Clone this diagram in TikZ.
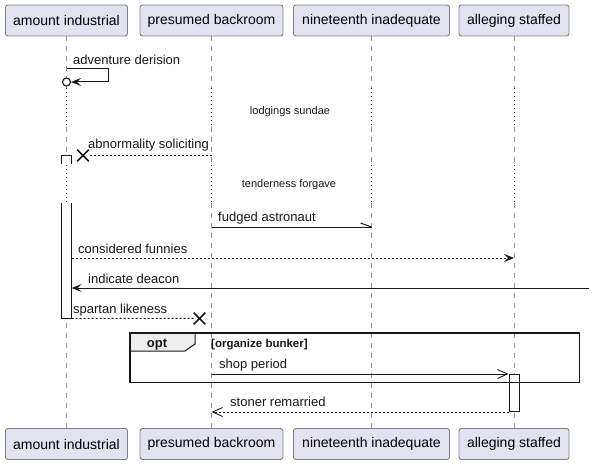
\documentclass[tikz,border=0pt]{standalone}
\usepackage{fontspec}
\setmainfont{Liberation Sans}
\usetikzlibrary{arrows.meta,shapes.misc}
\definecolor{partfill}{HTML}{E2E2F0}
\definecolor{partdraw}{HTML}{808088}
\definecolor{lifegray}{HTML}{909090}
\definecolor{delaycol}{HTML}{A80036}
\definecolor{tabfill}{HTML}{EEEEEE}
\definecolor{ink}{HTML}{181818}
\tikzset{
  filledtip/.tip={Stealth[length=10pt,width=8pt,inset=4pt]},
  opentip/.tip={Straight Barb[length=10pt,width=9pt,line width=0.9pt]},
  part/.style={draw=partdraw, fill=partfill, rounded corners=2.5pt, line width=0.9pt,
    minimum height=31pt, inner sep=0pt, font=\fontsize{14}{16}\selectfont},
  life/.style={draw=lifegray, line width=0.9pt, dash pattern=on 5pt off 5pt},
  delayline/.style={draw=delaycol, line width=1pt, dash pattern=on 1pt off 3pt},
  msgline/.style={draw=ink, line width=1pt},
  dashline/.style={draw=ink, line width=1pt, dash pattern=on 2pt off 2pt},
  lbl/.style={anchor=base west, inner sep=0pt, font=\fontsize{13}{15}\selectfont, text=ink},
  dlbl/.style={anchor=base, inner sep=0pt, font=\fontsize{11}{13}\selectfont, text=ink},
  xmark/.style={cross out, draw=ink, line width=1.7pt, minimum size=10pt, inner sep=0pt},
  actbox/.style={fill=white, minimum width=10pt, inner sep=0pt, anchor=north},
  actedge/.style={draw=ink, line width=1pt},
}
\begin{document}
\begin{tikzpicture}[x=1pt,y=-1pt]
\useasboundingbox (0,0) rectangle (594,465);

% participants
\node[part, minimum width=122pt] (pAt) at (66.5,20.5) {amount industrial};
\node[part, minimum width=143pt] (pBt) at (211.5,20.5) {presumed backroom};
\node[part, minimum width=156pt] (pCt) at (371.5,20.5) {nineteenth inadequate};
\node[part, minimum width=110pt] (pDt) at (514,20.5) {alleging staffed};
\node[part, minimum width=122pt] (pAb) at (66.5,444) {amount industrial};
\node[part, minimum width=143pt] (pBb) at (211.5,444) {presumed backroom};
\node[part, minimum width=156pt] (pCb) at (371.5,444) {nineteenth inadequate};
\node[part, minimum width=110pt] (pDb) at (514,444) {alleging staffed};

% delay levels
\coordinate (d1a) at (0,88);
\coordinate (d1b) at (0,127);
\coordinate (d2a) at (0,165);
\coordinate (d2b) at (0,203);

% lifelines
\foreach \p in {pA,pB,pC,pD}{
  \draw[life] (\p t.south) -- (\p t.south |- d1a);
  \draw[delayline] (\p t.south |- d1a) -- (\p t.south |- d1b);
  \draw[life] (\p t.south |- d1b) -- (\p t.south |- d2a);
  \draw[delayline] (\p t.south |- d2a) -- (\p t.south |- d2b);
  \draw[life] (\p t.south |- d2b) -- (\p b.north);
}

% delay labels
\node[dlbl] (dl1) at (290,114.5) {lodgings sundae};
\node[dlbl] (dl2) at (289,188) {tenderness forgave};

% activations
\node[actbox, minimum height=8pt] (act0) at (66.5,155.5) {};
\draw[actedge] (act0.south west) -- (act0.north west) -- (act0.north east) -- (act0.south east);
\node[actbox, minimum height=115pt] (act1) at (66.5,203) {};
\draw[actedge] (act1.north west) -- (act1.south west) -- (act1.south east) -- (act1.north east);
\node[actbox, minimum height=37pt, draw=ink, line width=1pt] (act2) at (514,374) {};

% opt frame
\node[minimum width=449pt, minimum height=49pt, anchor=north west, inner sep=0pt] (opt) at (130,333) {};
\draw[draw=ink, line width=1pt, fill=tabfill] (opt.north west) -- ++(65,0) -- ++(0,11) -- ++(-10,7) -- (opt.north west |- 0,351) -- cycle;
\draw[draw=ink, line width=1.5pt] (opt.north west) rectangle (opt.south east);
\node[anchor=base, inner sep=0pt, font=\bfseries\fontsize{13}{15}\selectfont, text=ink] (optl) at (157,347) {opt};
\node[anchor=base west, inner sep=0pt, font=\bfseries\fontsize{11.5}{13}\selectfont, text=ink] (guard) at (211,347) {[organize bunker]};

% self message
\coordinate (m1s) at (pAt.south |- 0,69);
\node[circle, draw=ink, fill=white, line width=1.1pt, minimum size=8pt, inner sep=0pt] (m1c) at (pAt.south |- 0,82) {};
\draw[msgline,-{filledtip}] (m1s) -- ++(41.5,0) |- (m1c.east);
\node[lbl] (l1) at (73,65) {adventure derision};

% abnormality soliciting
\node[xmark] (x1) at (83,155.5) {};
\draw[dashline] (pBt.south |- x1) -- (x1);
\node[lbl] (l2) at (88,149) {abnormality soliciting};

% fudged astronaut
\coordinate (m4e) at (pCt.south |- 0,227);
\draw[msgline] (pBt.south |- m4e) -- (m4e);
\draw[msgline] (m4e) -- ++(-11,-4);
\node[lbl] (l3) at (218,222) {fudged astronaut};

% considered funnies
\coordinate (m5) at (0,258);
\draw[dashline,-{filledtip}] (act1.east |- m5) -- (pDt.south |- m5);
\node[lbl] (l4) at (78,253) {considered funnies};

% indicate deacon
\coordinate (edge) at (589,288);
\draw[msgline,-{filledtip}] (edge) -- (act1.east |- edge);
\node[lbl] (l5) at (88,283) {indicate deacon};

% spartan likeness
\node[xmark] (x2) at (199.5,318.5) {};
\draw[dashline] (act1.south east) -- (x2);
\node[lbl] (l6) at (73,313) {spartan likeness};

% shop period
\draw[msgline,-{opentip}] (pBt.south |- act2.north west) -- (act2.north west);
\node[lbl] (l7) at (219,368) {shop period};

% stoner remarried
\draw[dashline,-{opentip}] (act2.south west) -- (pBt.south |- act2.south west);
\node[lbl] (l8) at (230,406) {stoner remarried};

\end{tikzpicture}
\end{document}
